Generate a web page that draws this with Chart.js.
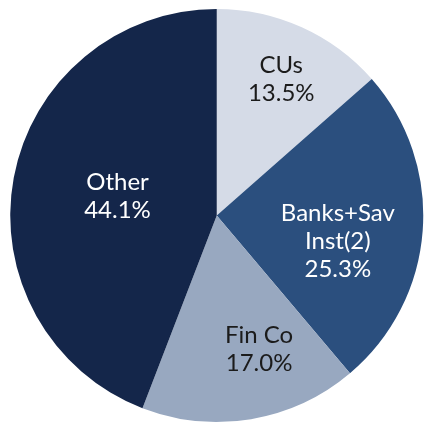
<!DOCTYPE html>
<html>
<head>
<meta charset="utf-8">
<script src="https://cdn.jsdelivr.net/npm/chart.js@4/dist/chart.umd.min.js"></script>
<style>
html,body{margin:0;padding:0;background:#fff;}
#wrap{width:426px;height:424px;position:relative;}
</style>
</head>
<body>
<div id="wrap"><canvas id="c"></canvas></div>
<script>
const categories = ["CUs", "Banks+Sav Inst(2)", "Fin Co", "Other"];
const labelLines = [["CUs"], ["Banks+Sav", "Inst(2)"], ["Fin Co"], ["Other"]];
const shares = [13.5, 25.3, 17.0, 44.1];
const colors = ["#D5DBE7", "#2B4F7E", "#98A8C0", "#14264A"];
const textColors = ["#1b1b1b", "#ffffff", "#1b1b1b", "#ffffff"];
// label placement: fraction of radius, angle shift in degrees
const labelFrac = [0.73, 0.60, 0.68, 0.49];
const labelShift = [1, 8, -8, 0.7];

const labelPlugin = {
  id: 'sliceLabels',
  afterDatasetsDraw(chart) {
    const ctx = chart.ctx;
    const meta = chart.getDatasetMeta(0);
    ctx.save();
    ctx.font = '24px Lato, "Open Sans", sans-serif';
    ctx.textAlign = 'center';
    ctx.textBaseline = 'middle';
    meta.data.forEach((arc, i) => {
      const p = arc.getProps(['x','y','startAngle','endAngle','outerRadius'], true);
      const mid = (p.startAngle + p.endAngle) / 2 + labelShift[i] * Math.PI / 180;
      const r = p.outerRadius * labelFrac[i];
      const cx = p.x + Math.cos(mid) * r;
      const cy = p.y + Math.sin(mid) * r;
      const lines = labelLines[i].concat([shares[i].toFixed(1) + '%']);
      const lh = 28;
      const top = cy - (lines.length - 1) * lh / 2;
      ctx.fillStyle = textColors[i];
      lines.forEach((t, k) => ctx.fillText(t, cx, top + k * lh));
    });
    ctx.restore();
  }
};

new Chart(document.getElementById('c'), {
  type: 'pie',
  data: {
    labels: categories,
    datasets: [{
      data: shares,
      backgroundColor: colors,
      borderWidth: 0
    }]
  },
  options: {
    responsive: true,
    maintainAspectRatio: false,
    animation: false,
    layout: { padding: { left: 9.5, right: 2, top: 9, bottom: 2 } },
    plugins: { legend: { display: false }, tooltip: { enabled: false } }
  },
  plugins: [labelPlugin]
});
</script>
</body>
</html>
